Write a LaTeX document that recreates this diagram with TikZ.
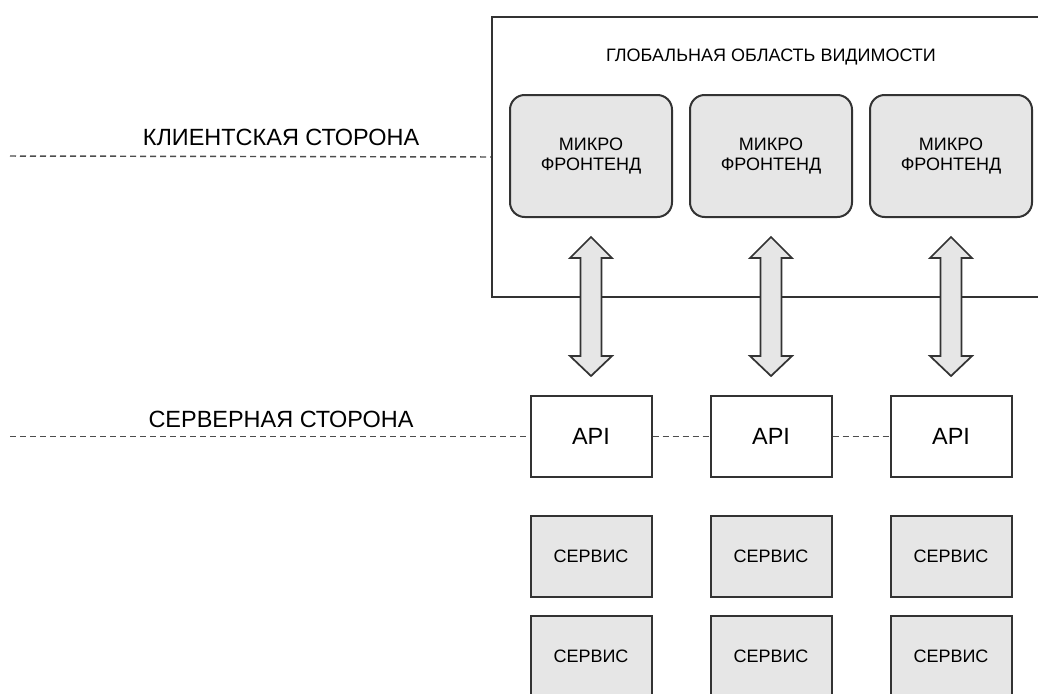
\documentclass[tikz,border=0pt]{standalone}
\usepackage{fontspec}
\setmainfont{Liberation Sans}
\usetikzlibrary{calc}
\definecolor{boxfill}{HTML}{E6E6E6}
\definecolor{edge}{HTML}{333333}
\definecolor{dashc}{HTML}{4D4D4D}
\begin{document}
\begin{tikzpicture}[x=0.75pt,y=-0.75pt,
  scopebox/.style={draw=edge, line width=1.5pt, minimum width=426.75pt, minimum height=210pt, inner sep=0pt, anchor=north west},
  mfbox/.style={draw=edge, line width=1.5pt, fill=boxfill, rounded corners=11pt, minimum width=121.5pt, minimum height=91.5pt, inner sep=0pt, align=center, font=\fontsize{13.5}{15}\selectfont},
  apibox/.style={draw=edge, line width=1.5pt, fill=white, minimum width=90.75pt, minimum height=60.75pt, inner sep=0pt, font=\fontsize{17.6}{20}\selectfont},
  svcbox/.style={draw=edge, line width=1.5pt, fill=boxfill, minimum width=90.75pt, minimum height=60.75pt, inner sep=0pt, font=\fontsize{13.5}{15}\selectfont},
  sidelabel/.style={inner sep=0pt, font=\fontsize{17.6}{20}\selectfont},
  titlelabel/.style={inner sep=0pt, font=\fontsize{13.5}{15}\selectfont},
  dashline/.style={draw=dashc, line width=1.1pt, dash pattern=on 4.5pt off 3pt},
  biarrow/.style={draw=edge, fill=boxfill, line width=1.3pt, line join=miter}
]
\useasboundingbox (0,0) rectangle (1038,693);
\clip (0,0) rectangle (1038,693);

% global scope box (runs off the right edge)
\node[scopebox] (scope) at (491,16) {};
\node[titlelabel] (title) at (771,57) {ГЛОБАЛЬНАЯ ОБЛАСТЬ ВИДИМОСТИ};

% micro frontends
\node[mfbox] (mf1) at (591,156) {МИКРО\\ФРОНТЕНД};
\node[mfbox] (mf2) at (771,156) {МИКРО\\ФРОНТЕНД};
\node[mfbox] (mf3) at (951,156) {МИКРО\\ФРОНТЕНД};

% APIs
\node[apibox] (api1) at (591,436.5) {API};
\node[apibox] (api2) at (771,436.5) {API};
\node[apibox] (api3) at (951,436.5) {API};

% services
\node[svcbox] (s11) at (591,556.5) {СЕРВИС};
\node[svcbox] (s21) at (771,556.5) {СЕРВИС};
\node[svcbox] (s31) at (951,556.5) {СЕРВИС};
\node[svcbox] (s12) at (591,656.5) {СЕРВИС};
\node[svcbox] (s22) at (771,656.5) {СЕРВИС};
\node[svcbox] (s32) at (951,656.5) {СЕРВИС};

% side labels and dashed lines
\node[sidelabel] (client) at (281,137) {КЛИЕНТСКАЯ СТОРОНА};
\node[sidelabel] (server) at (281,419) {СЕРВЕРНАЯ СТОРОНА};
\coordinate (cl) at (10,156);
\coordinate (sl) at (10,436.5);
\draw[dashline] (cl) -- (scope.west);
\draw[dashline] (sl) -- (api1.west);
\draw[dashline] (api1.east) -- (api2.west);
\draw[dashline] (api2.east) -- (api3.west);

% double arrows
\foreach \m in {mf1,mf2,mf3}{
  \draw[biarrow] ($(\m.south)+(0,19)$) -- ++(21,21) -- ++(-10.5,0) -- ++(0,98)
    -- ++(10.5,0) -- ++(-21,20) -- ++(-21,-20) -- ++(10.5,0) -- ++(0,-98)
    -- ++(-10.5,0) -- cycle;
}
\end{tikzpicture}
\end{document}
